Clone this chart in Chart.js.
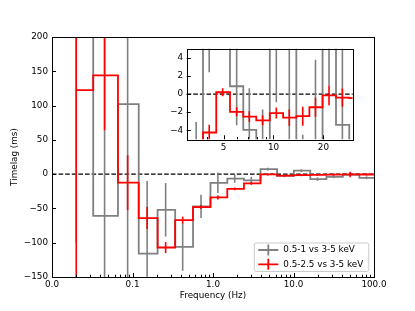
<!DOCTYPE html>
<html>
<head>
<meta charset="utf-8">
<script src="https://cdn.jsdelivr.net/npm/chart.js@4/dist/chart.umd.min.js"></script>
<style>
  html, body { margin: 0; padding: 0; background: #fff; }
  #wrap { position: relative; width: 415px; height: 311px; }
  #mainChart { position: absolute; left: 0; top: 0; }
  #insetChart { position: absolute; left: 160px; top: 40px; }
</style>
</head>
<body>
<div id="wrap">
  <canvas id="mainChart" width="415" height="311"></canvas>
  <canvas id="insetChart" width="200" height="115"></canvas>
</div>
<script>
const seriesNames = ['0.5-1 vs 3-5 keV', '0.5-2.5 vs 3-5 keV'];
const seriesColors = ['#808080', '#ff0000'];

// main panel: bin centres (Hz) and lags (ms)
const freq = [0.02, 0.045, 0.087, 0.152, 0.258, 0.42, 0.71, 1.15, 1.86, 2.99, 4.8, 7.7, 12.5, 19.8, 31.5, 50.5, 81, 128];
const lagSoft = [300, -61, 102, -116, -52, -106, -47, -12.6, -6.5, -9, 7.3, -2.4, 5, -7.3, -3.9, -1, -5.3, -5];
const errSoft = [400, 300, 300, 106, 39, 35, 17, 15, 6, 5, 2, 2, 2, 2.5, 2, 2, 2, 2];
const lagWide = [122.5, 144, -12.4, -64, -107, -67, -48, -34, -21.5, -13.6, -0.4, -2.3, -1.5, -1, -0.6, -0.4, -0.5, -0.5];
const errWide = [400, 80, 40, 16, 8, 5, 3, 3, 2, 2, 1.5, 1.5, 1.5, 1.5, 1.5, 4, 1.5, 1.5];

// inset: finer bins
const insetFreq = [2.85, 3.42, 4.1, 4.94, 6.0, 7.15, 8.6, 10.4, 12.45, 15, 17.9, 21.6, 26, 31.2];
const insetSoft = [-9, -8, 9, 12, 0.86, -3.96, -7, 6, 7, -8, -6, 8, -3.4, -8];
const insetSoftErr = [3, 4.9, 6.6, 5, 4.3, 4.6, 5.3, 6.9, 14, 3.5, 9.8, 7, 9, 2];
const insetWide = [-10, -8, -4.25, 0.2, -1.96, -2.5, -2.9, -2.1, -2.6, -2.45, -1.46, -0.14, -0.4, -0.45];
const insetWideErr = [1, 1, 0.85, 0.45, 0.5, 0.6, 0.55, 0.6, 0.9, 1.05, 1.05, 1.1, 1.0, 1.0];

// ticks
const xTickVals = [0.01, 0.1, 1, 10, 100];
const xTickLabels = ['0.0', '0.1', '1.0', '10.0', '100.0'];
const yTickVals = [-150, -100, -50, 0, 50, 100, 150, 200];
const yTickLabels = ['−150', '−100', '−50', '0', '50', '100', '150', '200'];
const insetXTickVals = [5, 10, 20];
const insetXTickLabels = ['5', '10', '20'];
const insetYTickVals = [-4, -2, 0, 2, 4];
const insetYTickLabels = ['−4', '−2', '0', '2', '4'];

Chart.defaults.font.family = "'DejaVu Sans', sans-serif";
Chart.defaults.font.size = 8.8;
Chart.defaults.color = '#000';

// matplotlib steps-mid: jump at the linear midpoint between centres
function stepMid(xs, ys) {
  const pts = [];
  for (let i = 0; i < xs.length; i++) {
    pts.push({x: xs[i], y: ys[i]});
    if (i < xs.length - 1) {
      const m = (xs[i] + xs[i + 1]) / 2;
      pts.push({x: m, y: ys[i]}, {x: m, y: ys[i + 1]});
    }
  }
  return pts;
}

function logTicks(lo, hi, majors) {
  const out = majors.map(v => ({value: v, mj: true}));
  for (let n = Math.floor(Math.log10(lo)); n <= Math.ceil(Math.log10(hi)); n++) {
    for (let k = 1; k <= 9; k++) {
      const v = +(k * Math.pow(10, n)).toPrecision(6);
      if (v < lo * 0.999 || v > hi * 1.001) continue;
      if (majors.some(m => Math.abs(m - v) < 1e-9 * v)) continue;
      out.push({value: v, mj: false});
    }
  }
  return out.sort((a, b) => a.value - b.value);
}

function lookup(vals, labels) {
  return v => {
    const i = vals.findIndex(t => Math.abs(t - v) < 1e-9 * Math.max(1, Math.abs(t)));
    return i >= 0 ? labels[i] : '';
  };
}

const errorBars = {
  id: 'errorBars',
  afterDatasetDraw(chart, args) {
    const ds = chart.data.datasets[args.index];
    if (!ds.errs) return;
    const {ctx, chartArea: a, scales: {x, y}} = chart;
    ctx.save();
    ctx.beginPath();
    ctx.rect(a.left, a.top, a.right - a.left, a.bottom - a.top);
    ctx.clip();
    ctx.strokeStyle = ds.borderColor;
    ctx.lineWidth = 1.6;
    ds.centres.forEach((f, i) => {
      const px = x.getPixelForValue(f);
      ctx.beginPath();
      ctx.moveTo(px, y.getPixelForValue(ds.vals[i] - ds.errs[i]));
      ctx.lineTo(px, y.getPixelForValue(ds.vals[i] + ds.errs[i]));
      ctx.stroke();
    });
    ctx.restore();
  }
};

const axesDecor = {
  id: 'axesDecor',
  beforeDraw(chart) {
    if (!chart.options.whiteArea) return;
    const {ctx, chartArea: a} = chart;
    ctx.save();
    ctx.fillStyle = '#fff';
    ctx.fillRect(a.left, a.top, a.right - a.left, a.bottom - a.top);
    ctx.restore();
  },
  beforeDatasetsDraw(chart) {
    const {ctx, chartArea: a, scales: {y}} = chart;
    const py = y.getPixelForValue(0);
    ctx.save();
    ctx.strokeStyle = '#000';
    ctx.lineWidth = 1.3;
    ctx.setLineDash([4.6, 2]);
    ctx.beginPath();
    ctx.moveTo(a.left, py);
    ctx.lineTo(a.right, py);
    ctx.stroke();
    ctx.restore();
  },
  afterDraw(chart) {
    const {ctx, chartArea: a, scales: {x, y}} = chart;
    ctx.save();
    ctx.strokeStyle = '#000';
    ctx.lineWidth = 1;
    x.ticks.forEach(t => {
      const px = Math.round(x.getPixelForValue(t.value)) + 0.5;
      const len = t.mj ? 4 : 2.3;
      ctx.beginPath();
      ctx.moveTo(px, a.bottom);
      ctx.lineTo(px, a.bottom - len);
      ctx.stroke();
    });
    y.ticks.forEach(t => {
      const py = Math.round(y.getPixelForValue(t.value)) + 0.5;
      ctx.beginPath();
      ctx.moveTo(a.left, py);
      ctx.lineTo(a.left + 4, py);
      ctx.stroke();
    });
    ctx.strokeRect(Math.round(a.left) + 0.5, Math.round(a.top) + 0.5,
      Math.round(a.right - a.left), Math.round(a.bottom - a.top));
    ctx.restore();
  }
};

const legendBox = {
  id: 'legendBox',
  afterDraw(chart) {
    const {ctx, chartArea: a} = chart;
    const w = 114.5, h = 28.5;
    const bx = a.right - 5.7 - w, by = a.bottom - 6 - h;
    ctx.save();
    ctx.fillStyle = 'rgba(255,255,255,0.8)';
    ctx.strokeStyle = '#cccccc';
    ctx.lineWidth = 1;
    ctx.beginPath();
    ctx.roundRect(bx + 0.5, by + 0.5, w, h, 2);
    ctx.fill();
    ctx.stroke();
    ctx.font = "8.8px 'DejaVu Sans', sans-serif";
    ctx.textBaseline = 'middle';
    ctx.fillStyle = '#000';
    chart.data.datasets.forEach((ds, i) => {
      const cy = by + 7.5 + i * 14.3;
      const hx = bx + 4.5;
      ctx.strokeStyle = ds.borderColor;
      ctx.lineWidth = 1.8;
      ctx.beginPath();
      ctx.moveTo(hx, cy);
      ctx.lineTo(hx + 20, cy);
      ctx.moveTo(hx + 10, cy - 5.5);
      ctx.lineTo(hx + 10, cy + 5.5);
      ctx.stroke();
      ctx.fillText(ds.label, hx + 25, cy);
    });
    ctx.restore();
  }
};

function seriesDataset(i, xs, ys, es, order) {
  return {
    label: seriesNames[i],
    data: stepMid(xs, ys),
    centres: xs, vals: ys, errs: es,
    borderColor: seriesColors[i],
    borderWidth: 1.8,
    pointRadius: 0,
    tension: 0,
    fill: false,
    order: order
  };
}

new Chart(document.getElementById('mainChart'), {
  type: 'line',
  data: {
    datasets: [
      seriesDataset(0, freq, lagSoft, errSoft, 2),
      seriesDataset(1, freq, lagWide, errWide, 1)
    ]
  },
  options: {
    responsive: false,
    devicePixelRatio: 1,
    animation: false,
    layout: { padding: { left: 0, top: 37, right: 41, bottom: 0 } },
    plugins: { legend: { display: false }, tooltip: { enabled: false } },
    scales: {
      x: {
        type: 'logarithmic', min: 0.01, max: 100,
        grid: { display: false, drawTicks: false }, border: { display: false },
        afterBuildTicks: s => { s.ticks = logTicks(0.01, 100, xTickVals); },
        afterFit: s => { s.height = 34; },
        ticks: { autoSkip: false, maxRotation: 0, padding: 2, callback: lookup(xTickVals, xTickLabels) },
        title: { display: true, text: 'Frequency (Hz)', padding: { top: 0, bottom: 9.6 } }
      },
      y: {
        type: 'linear', min: -150, max: 200,
        grid: { display: false, drawTicks: false }, border: { display: false },
        afterBuildTicks: s => { s.ticks = yTickVals.map(v => ({value: v, mj: true})); },
        afterFit: s => { s.width = 52; },
        ticks: { autoSkip: false, padding: 4, callback: lookup(yTickVals, yTickLabels) },
        title: { display: true, text: 'Timelag (ms)', padding: { top: 9.6, bottom: 0 } }
      }
    }
  },
  plugins: [axesDecor, errorBars, legendBox]
});

new Chart(document.getElementById('insetChart'), {
  type: 'line',
  data: {
    datasets: [
      seriesDataset(0, insetFreq, insetSoft, insetSoftErr, 2),
      seriesDataset(1, insetFreq, insetWide, insetWideErr, 1)
    ]
  },
  options: {
    responsive: false,
    devicePixelRatio: 1,
    animation: false,
    whiteArea: true,
    layout: { padding: { left: 0, top: 6.7, right: 7.3, bottom: 0 } },
    plugins: { legend: { display: false }, tooltip: { enabled: false } },
    scales: {
      x: {
        type: 'logarithmic', min: 3, max: 30,
        grid: { display: false, drawTicks: false }, border: { display: false },
        afterBuildTicks: s => { s.ticks = logTicks(3, 30, insetXTickVals); },
        afterFit: s => { s.height = 15.7; },
        ticks: { autoSkip: false, maxRotation: 0, padding: 3, callback: lookup(insetXTickVals, insetXTickLabels) }
      },
      y: {
        type: 'linear', min: -5, max: 5,
        grid: { display: false, drawTicks: false }, border: { display: false },
        afterBuildTicks: s => { s.ticks = insetYTickVals.map(v => ({value: v, mj: true})); },
        afterFit: s => { s.width = 26.7; },
        ticks: { autoSkip: false, padding: 3.5, callback: lookup(insetYTickVals, insetYTickLabels) }
      }
    }
  },
  plugins: [axesDecor, errorBars]
});
</script>
</body>
</html>
